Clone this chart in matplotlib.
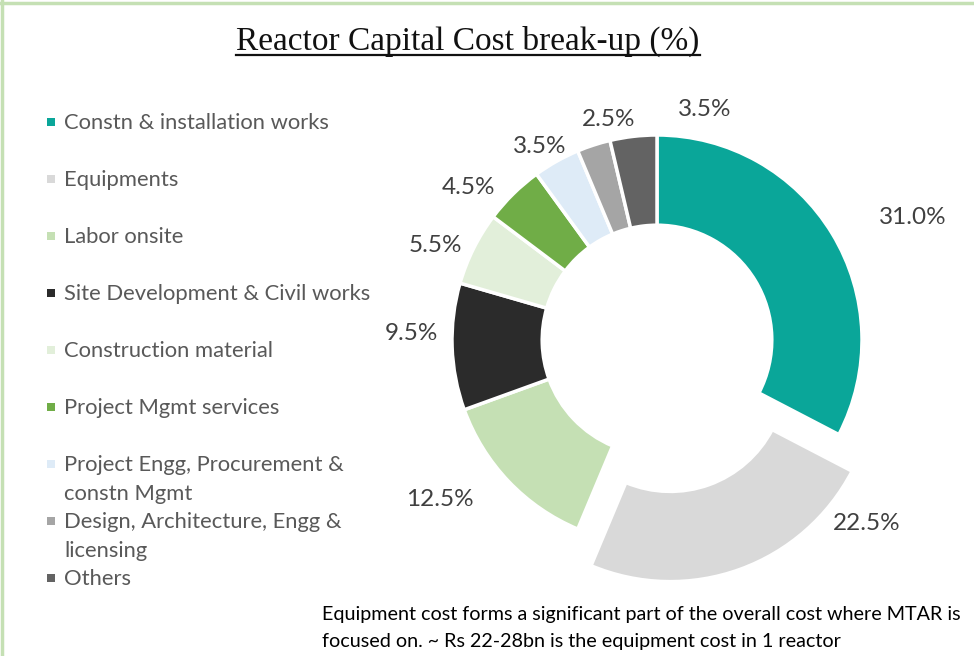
import numpy as np
import matplotlib.pyplot as plt
from matplotlib.lines import Line2D
from matplotlib.patches import Rectangle

# capital cost shares (%), drawn clockwise from 12 o'clock
categories = [
    "Constn & installation works",
    "Equipments",
    "Labor onsite",
    "Site Development & Civil works",
    "Construction material",
    "Project Mgmt services",
    "Project Engg, Procurement &\nconstn Mgmt",
    "Design, Architecture, Engg &\nlicensing",
    "Others",
]
shares = [31.0, 22.5, 12.5, 9.5, 5.5, 4.5, 3.5, 2.5, 3.5]
colors = ["#0aa699", "#d9d9d9", "#c5e0b4", "#2b2b2b", "#e2efda",
          "#70ad47", "#deebf7", "#a5a5a5", "#636363"]
explode = [0, 0.19, 0, 0, 0, 0, 0, 0, 0]

# label placement: angle nudge (deg) from wedge middle, distance in radii
label_nudge = [-5.3, 33.8, -7.6, -3.9, 3.1, 6.1, 1.6, -5.6, -18.3]
label_dist = [1.39, 1.19, 1.31, 1.20, 1.18, 1.19, 1.11, 1.11, 1.16]

note = ["Equipment cost forms a significant part of the overall cost where MTAR is",
        "focused on. ~ Rs 22-28bn is the equipment cost in 1 reactor"]

W, H = 974, 656
R = 205            # donut radius in px
cx, cy = 657, 340  # donut centre in px (from top-left)


def fx(px):
    return px / W


def fy(py):
    return 1 - py / H


fig = plt.figure(figsize=(W / 100, H / 100), dpi=100)
ax = fig.add_axes([0, 0, 1, 1])

wedges, _ = ax.pie(shares, colors=colors, startangle=90, counterclock=False,
                   explode=explode, radius=1,
                   wedgeprops=dict(width=0.44, edgecolor="white", linewidth=2.5))
ax.set_xlim(-cx / R, (W - cx) / R)
ax.set_ylim(-(H - cy) / R, cy / R)
ax.axis("off")

for w, v, dn, d in zip(wedges, shares, label_nudge, label_dist):
    ang = np.deg2rad((w.theta1 + w.theta2) / 2 + dn)
    x0, y0 = w.center
    ax.text(x0 + d * np.cos(ang), y0 + d * np.sin(ang), f"{v:.1f}%",
            ha="center", va="center_baseline", fontsize=17.5, color="#404040",
            family="Lato")

# legend, one row every 57 px
for i, (lab, c) in enumerate(zip(categories, colors)):
    y = 121 + 57 * i
    fig.add_artist(Rectangle((fx(47), fy(y + 5)), 8 / W, 8 / H,
                             transform=fig.transFigure, color=c, lw=0))
    for j, line in enumerate(lab.split("\n")):
        fig.text(fx(64), fy(y + 29 * j), line, ha="left", va="center_baseline",
                 fontsize=15.8, color="#595959", family="Lato")

# underlined title
title = fig.text(fx(468), fy(41), "Reactor Capital Cost break-up (%)",
                 ha="center", va="center", fontsize=24,
                 family="Liberation Serif", color="#111111")
fig.canvas.draw()
bb = title.get_window_extent().transformed(fig.transFigure.inverted())
fig.add_artist(Line2D([bb.x0, bb.x1], [fy(55), fy(55)], color="#111111", lw=1.6,
                      transform=fig.transFigure))

for j, line in enumerate(note):
    fig.text(fx(322), fy(613 + 27 * j), line, ha="left", va="center_baseline",
             fontsize=14.2, color="black", family="Lato")

# light green frame on the top and left edges
frame = "#c5e0b4"
fig.add_artist(Line2D([0, 1], [fy(3), fy(3)], color=frame, lw=2.5,
                      transform=fig.transFigure))
fig.add_artist(Line2D([fx(2), fx(2)], [0, 1], color=frame, lw=2.5,
                      transform=fig.transFigure))

fig.savefig("out.png", dpi=100, facecolor="white")
